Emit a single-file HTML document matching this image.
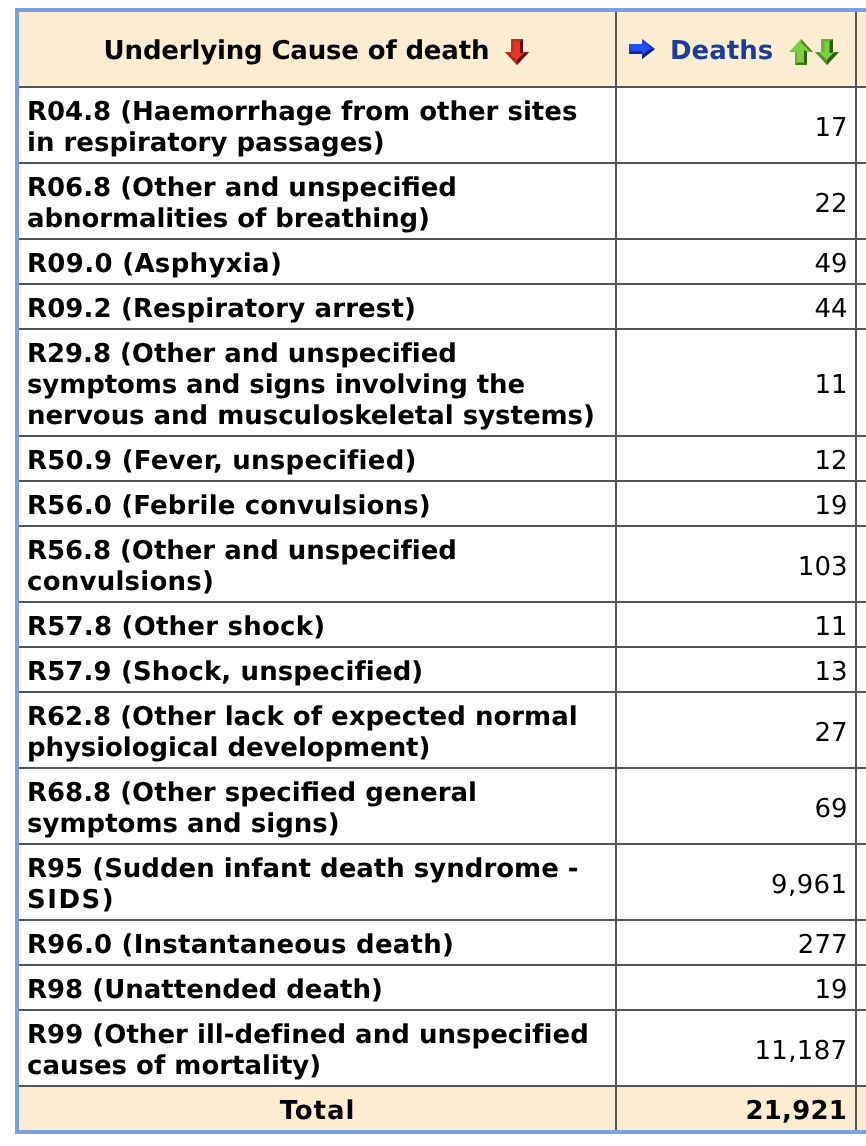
<!DOCTYPE html>
<html lang="en">
<head>
<meta charset="utf-8">
<title>Underlying Cause of death</title>
<style>
html,body{margin:0;padding:0;background:#fff;}
body{width:866px;height:1146px;overflow:hidden;position:relative;
  font-family:"DejaVu Sans","Verdana","Liberation Sans",sans-serif;font-size:26px;line-height:31px;color:#000;}
#wrap{will-change:transform;text-rendering:geometricPrecision;position:absolute;left:15px;top:8px;width:900px;border:4px solid #789fe0;background:#fff;}
table{border-collapse:separate;border-spacing:0;table-layout:fixed;width:900px;}
col.c1{width:598px;}
col.c2{width:240px;}
col.c3{width:62px;}
th,td{box-sizing:border-box;border-right:2px solid #545454;border-bottom:2px solid #545454;padding:0;vertical-align:middle;}
thead th{height:76px;background:#fcecd2;font-weight:bold;text-align:left;position:relative;}
.hd{position:relative;height:74px;}
.hd span,.hd svg{position:absolute;white-space:nowrap;}
tbody th{text-align:left;font-weight:bold;padding:9px 0 3px 8px;white-space:nowrap;}
tbody td{text-align:right;font-weight:normal;padding:9px 7.5px 3px 8px;}
tr.h1 th,tr.h1 td{height:45px;}
tr.h2 th,tr.h2 td{height:76px;}
tr.h3 th,tr.h3 td{height:107px;}
tfoot th,tfoot td{height:43px;background:#fcecd2;font-weight:bold;border-bottom:0;padding-top:6px;}
tfoot th{text-align:center;}
tfoot td{text-align:right;padding-right:8px;letter-spacing:0.2px;}
.dl{color:#1c3f94;}
</style>
</head>
<body>
<svg width="0" height="0" style="position:absolute"><defs><filter id="bl" x="-10%" y="-10%" width="120%" height="120%"><feGaussianBlur stdDeviation="0.45"/></filter></defs></svg>
<div id="wrap">
<table>
<colgroup><col class="c1"><col class="c2"><col class="c3"></colgroup>
<thead>
<tr><th><div class="hd"><span class="t1" style="left:84.6px;top:24px;letter-spacing:-0.167px">Underlying Cause of death</span><svg style="left:486px;top:27px" width="24" height="26" viewBox="0 0 24 26"><g filter="url(#bl)">
<polygon points="6,0 18,0 18,13 24,13 12,26 0,13 6,13" fill="#e83424"/>
<polygon points="6,0 18,0 15,2.5 8.7,2.5" fill="#c42a1a"/>
<polygon points="6,0 8.7,2.5 8.7,13 6,13" fill="#cc2c1c"/>
<polygon points="18,0 15,2.5 15,14 18,13.5" fill="#5e100a"/>
<polygon points="0,13 12,26 12,22 4,13.5" fill="#b4261a"/>
<polygon points="24,13 12,26 12,21 19.5,13.5" fill="#5e100a"/>
</g></svg></div></th><th><div class="hd"><svg style="left:12px;top:27px" width="26" height="20" viewBox="0 0 26 20"><g filter="url(#bl)">
<polygon points="0,5 13,5 13,0 26,10 13,20 13,15 0,15" fill="#2050f0"/>
<polygon points="0,5 1.5,5 1.5,15 0,15" fill="#1a42d8"/>
<polygon points="0,15 13,15 13,12 1.5,12.5" fill="#0c2a90"/>
<polygon points="13,20 26,10 22,9.5 13,16" fill="#0c2284"/>
<polygon points="13,0 26,10 22,9.5 14.5,3.5" fill="#1a3cc8"/>
</g></svg><span class="dl" style="left:53px;top:24px">Deaths</span><svg style="left:172px;top:27px" width="24" height="26" viewBox="0 0 24 26"><g filter="url(#bl)">
<polygon points="12,0 24,13 18,13 18,26 6,26 6,13 0,13" fill="#7cd040"/>
<polygon points="12,0 24,13 21,12.6 12,3.6" fill="#4a8a1c"/>
<polygon points="18,13 18,26 15,23.5 15,11" fill="#2f600e"/>
<polygon points="6,26 18,26 15,23.5 8,23.5" fill="#3f7a14"/>
<polygon points="6,13 8,13 8,23.5 6,26" fill="#62b030"/>
<polygon points="0,13 6,13 6,12 2,12" fill="#62b030"/>
</g></svg><svg style="left:198px;top:27px" width="24" height="26" viewBox="0 0 24 26"><g filter="url(#bl)">
<polygon points="6,0 18,0 18,13 24,13 12,26 0,13 6,13" fill="#7cd040"/>
<polygon points="6,0 18,0 14.5,2.5 9.6,2.5" fill="#62b030"/>
<polygon points="6,0 9.6,2.5 9.6,13 6,13" fill="#66b432"/>
<polygon points="18,0 14.5,2.5 14.5,14 18,13.5" fill="#2f600e"/>
<polygon points="0,13 12,26 12,21.5 4.5,13.5" fill="#4f9420"/>
<polygon points="24,13 12,26 12,20.5 19,13.5" fill="#2f600e"/>
</g></svg></div></th><th></th></tr>
</thead>
<tbody>
<tr class="h2"><th><span>R04.8 (Haemorrhage from other sites</span><br><span>in respiratory passages)</span></th><td>17</td><td></td></tr>
<tr class="h2"><th><span>R06.8 (Other and unspecified</span><br><span style="letter-spacing:-0.077px">abnormalities of breathing)</span></th><td>22</td><td></td></tr>
<tr class="h1"><th><span style="letter-spacing:0.33px">R09.0 (Asphyxia)</span></th><td>49</td><td></td></tr>
<tr class="h1"><th><span style="letter-spacing:0.12px">R09.2 (Respiratory arrest)</span></th><td>44</td><td></td></tr>
<tr class="h3"><th><span style="letter-spacing:-0.037px">R29.8 (Other and unspecified</span><br><span style="letter-spacing:-0.113px">symptoms and signs involving the</span><br><span style="letter-spacing:-0.029px">nervous and musculoskeletal systems)</span></th><td>11</td><td></td></tr>
<tr class="h1"><th><span style="letter-spacing:0.24px">R50.9 (Fever, unspecified)</span></th><td>12</td><td></td></tr>
<tr class="h1"><th><span style="letter-spacing:0.154px">R56.0 (Febrile convulsions)</span></th><td>19</td><td></td></tr>
<tr class="h2"><th><span style="letter-spacing:-0.037px">R56.8 (Other and unspecified</span><br><span style="letter-spacing:0.245px">convulsions)</span></th><td>103</td><td></td></tr>
<tr class="h1"><th><span style="letter-spacing:0.22px">R57.8 (Other shock)</span></th><td>11</td><td></td></tr>
<tr class="h1"><th><span style="letter-spacing:0.12px">R57.9 (Shock, unspecified)</span></th><td>13</td><td></td></tr>
<tr class="h2"><th><span>R62.8 (Other lack of expected normal</span><br><span style="letter-spacing:-0.08px">physiological development)</span></th><td>27</td><td></td></tr>
<tr class="h2"><th><span>R68.8 (Other specified general</span><br><span>symptoms and signs)</span></th><td>69</td><td></td></tr>
<tr class="h2"><th><span>R95 (Sudden infant death syndrome -</span><br><span style="letter-spacing:1.5px">SIDS)</span></th><td><span style="letter-spacing:0.4px">9,961</span></td><td></td></tr>
<tr class="h1"><th><span style="letter-spacing:0.23px">R96.0 (Instantaneous death)</span></th><td>277</td><td></td></tr>
<tr class="h1"><th><span>R98 (Unattended death)</span></th><td>19</td><td></td></tr>
<tr class="h2"><th><span style="letter-spacing:0.027px">R99 (Other ill-defined and unspecified</span><br><span>causes of mortality)</span></th><td><span style="letter-spacing:0.35px">11,187</span></td><td></td></tr>
</tbody>
<tfoot>
<tr><th><span style="letter-spacing:0.9px;margin-left:0.9px">Total</span></th><td>21,921</td><td></td></tr>
</tfoot>
</table>
</div>
</body>
</html>
